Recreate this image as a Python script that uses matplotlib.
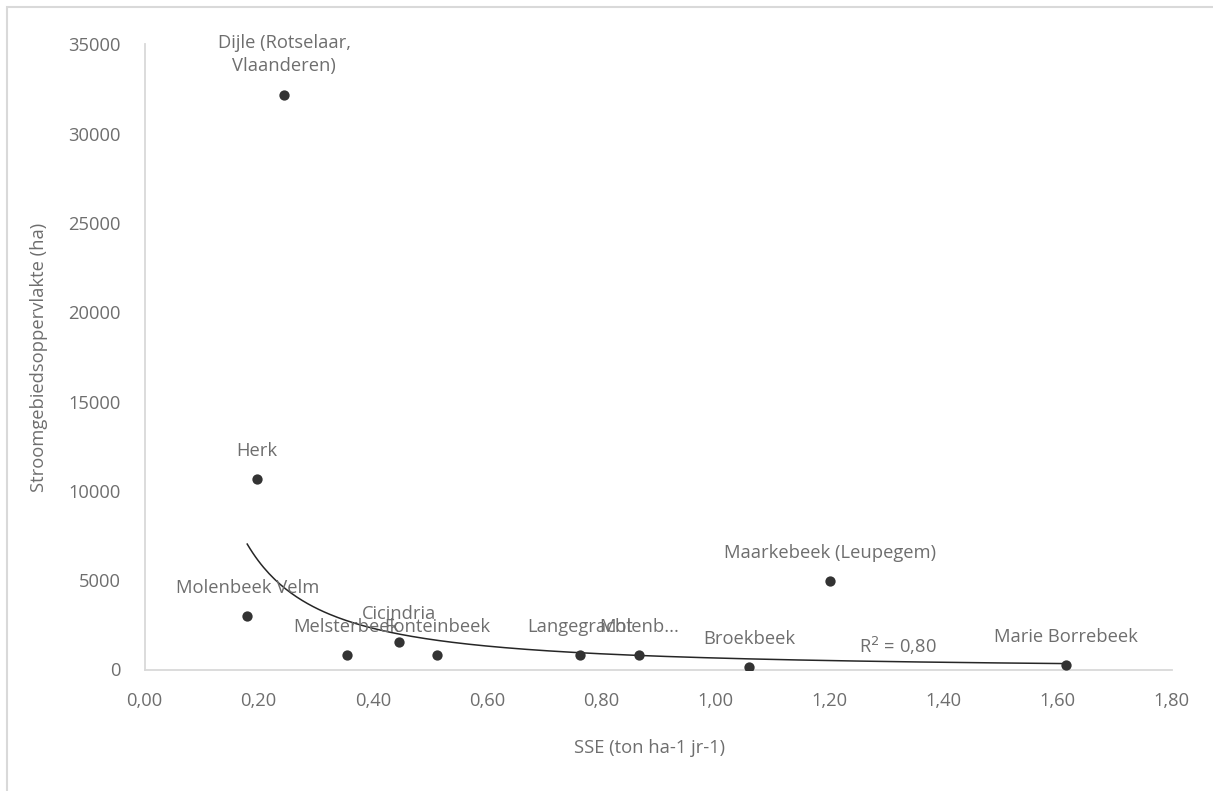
import numpy as np
import matplotlib
matplotlib.use("Agg")
import matplotlib.pyplot as plt
from matplotlib.patches import Rectangle

names = ["Dijle (Rotselaar,\nVlaanderen)", "Herk", "Molenbeek Velm", "Melsterbeek",
         "Cicindria", "Fonteinbeek", "Langegracht", "Molenb...", "Broekbeek",
         "Maarkebeek (Leupegem)", "Marie Borrebeek"]
sse = [0.245, 0.197, 0.180, 0.354, 0.446, 0.513, 0.763, 0.867, 1.059, 1.201, 1.615]
area = [32180, 10670, 2980, 810, 1560, 810, 800, 800, 160, 4960, 240]
xticks = [0.0, 0.2, 0.4, 0.6, 0.8, 1.0, 1.2, 1.4, 1.6, 1.8]
yticks = [0, 5000, 10000, 15000, 20000, 25000, 30000, 35000]
r2_text = "R$^2$ = 0,80"

plt.rcParams['font.family'] = ['Open Sans', 'DejaVu Sans']
txt = "#6e6e6e"
fs = 13.2
fig = plt.figure(figsize=(12.13, 7.91), dpi=100)
fig.patches.append(Rectangle((7/1213, -0.1), 1.2, (791-7)/791 + 0.1, transform=fig.transFigure,
                             fill=False, edgecolor="#d9d9d9", linewidth=1.5))
ax = fig.add_axes([144.5/1213, (791-669.5)/791, (1171.7-144.5)/1213, (669.5-44.3)/791])

x = np.array(sse); y = np.array(area)
b, lna = np.polyfit(np.log(x), np.log(y), 1)
xs = np.linspace(x.min(), x.max(), 300)
ax.plot(xs, np.exp(lna) * xs ** b, color="#262626", linewidth=1.1, zorder=2)
ax.scatter(x, y, s=55, color="#333333", zorder=3, linewidths=0)

for n, xi, yi in zip(names, sse, area):
    ax.annotate(n, (xi, yi), xytext=(0, 20 if "\n" not in n else 29), textcoords="offset points",
                ha="center", va="center", fontsize=fs, color=txt, linespacing=1.35)
ax.text(1.32, 1300, r2_text, fontsize=fs, color=txt, ha="center", va="center")

ax.set_xlim(0, 1.8)
ax.set_ylim(0, 35000)
ax.set_xticks(xticks)
ax.set_xticklabels([f"{v:.2f}".replace(".", ",") for v in xticks])
ax.set_yticks(yticks)
ax.set_yticklabels([str(v) for v in yticks])
ax.tick_params(length=0, labelsize=fs, labelcolor=txt, pad=17)
ax.tick_params(axis='x', pad=16)
for s in ["top", "right"]:
    ax.spines[s].set_visible(False)
for s in ["left", "bottom"]:
    ax.spines[s].set_color("#d9d9d9")
    ax.spines[s].set_linewidth(1.3)

fig.text(39/1213, 1 - 357/791, "Stroomgebiedsoppervlakte (ha)", rotation=90, ha="center", va="center",
         fontsize=fs, color=txt)
fig.text(649/1213, 1 - 748/791, "SSE (ton ha-1 jr-1)", ha="center", va="center", fontsize=fs, color=txt)

fig.savefig("out.png", dpi=100)
